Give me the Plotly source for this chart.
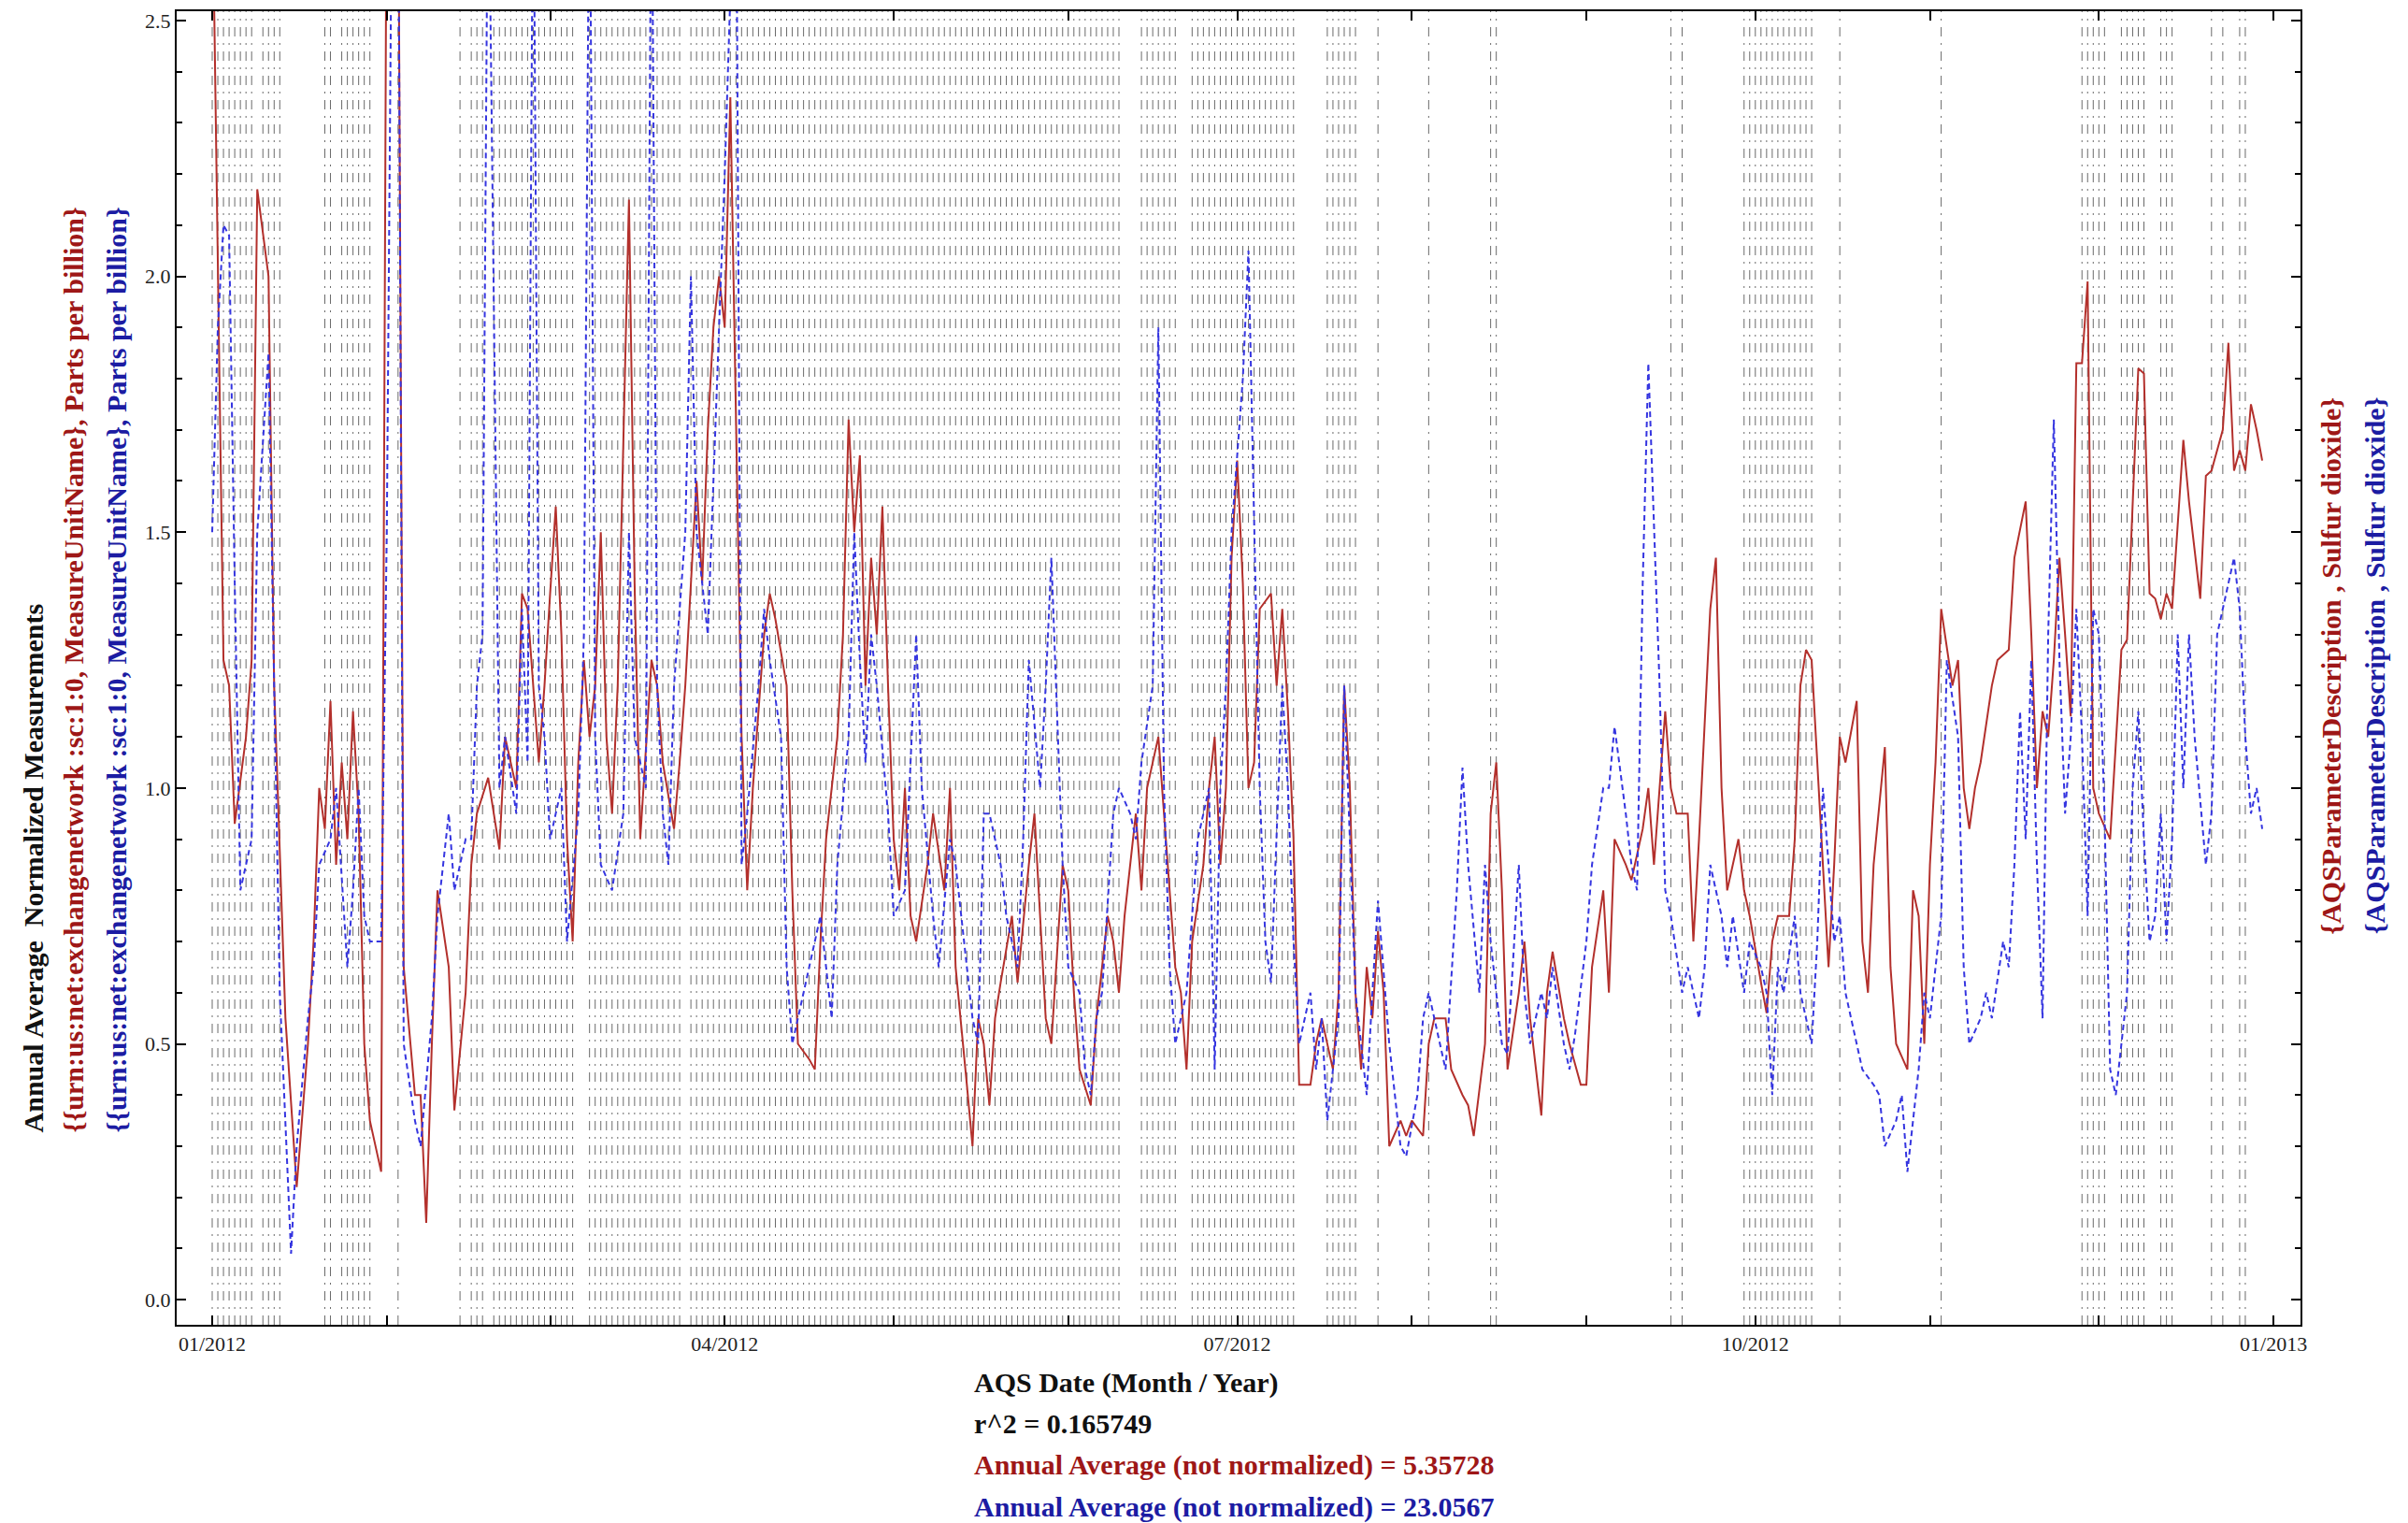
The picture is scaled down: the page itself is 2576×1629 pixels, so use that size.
import pandas as pd
import plotly.graph_objects as go

BASE = pd.Timestamp("2012-01-01")

# (day of year 2012 counted from Jan 1 = 0, normalized value)
red_points = [
    (0, 2.8), (2, 1.25), (3, 1.2), (4, 0.93), (6, 1.1), (7, 1.25), (8, 2.17), (10, 2.0), (11, 1.2), (13, 0.55),
    (15, 0.22), (17, 0.5), (18, 0.7), (19, 1.0), (20, 0.92), (21, 1.17), (22, 0.85), (23, 1.05), (24, 0.9), (25, 1.15),
    (26, 0.95), (27, 0.5), (28, 0.35), (30, 0.25), (31, 2.9), (32, 3.0), (33, 2.9), (34, 0.65), (36, 0.4), (37, 0.4),
    (38, 0.15), (39, 0.5), (40, 0.8), (42, 0.65), (43, 0.37), (45, 0.6), (46, 0.85), (47, 0.95), (49, 1.02), (50, 0.95),
    (51, 0.88), (52, 1.1), (54, 1.0), (55, 1.38), (56, 1.35), (58, 1.05), (59, 1.2), (60, 1.38), (61, 1.55), (62, 1.3),
    (63, 0.9), (64, 0.7), (65, 1.05), (66, 1.25), (67, 1.1), (68, 1.2), (69, 1.5), (70, 1.1), (71, 0.95), (72, 1.2),
    (73, 1.7), (74, 2.15), (75, 1.4), (76, 0.9), (78, 1.25), (79, 1.2), (80, 1.05), (82, 0.92), (83, 1.05), (84, 1.2),
    (86, 1.6), (87, 1.4), (88, 1.7), (89, 1.9), (90, 2.0), (91, 1.9), (92, 2.35), (93, 1.7), (94, 1.1), (95, 0.8),
    (96, 1.0), (98, 1.3), (99, 1.38), (100, 1.33), (102, 1.2), (103, 0.8), (104, 0.5), (106, 0.47), (107, 0.45), (108, 0.7),
    (109, 0.9), (111, 1.1), (112, 1.3), (113, 1.72), (114, 1.5), (115, 1.65), (116, 1.2), (117, 1.45), (118, 1.3), (119, 1.55),
    (120, 1.2), (121, 0.9), (122, 0.8), (123, 1.0), (124, 0.75), (125, 0.7), (127, 0.85), (128, 0.95), (130, 0.8), (131, 1.0),
    (132, 0.65), (134, 0.42), (135, 0.3), (136, 0.55), (137, 0.5), (138, 0.38), (139, 0.55), (140, 0.62), (142, 0.75), (143, 0.62),
    (145, 0.85), (146, 0.95), (147, 0.75), (148, 0.55), (149, 0.5), (151, 0.85), (152, 0.8), (153, 0.6), (154, 0.45), (156, 0.38),
    (157, 0.55), (159, 0.75), (160, 0.7), (161, 0.6), (162, 0.75), (164, 0.95), (165, 0.8), (166, 1.0), (168, 1.1), (169, 0.95),
    (171, 0.65), (172, 0.6), (173, 0.45), (174, 0.7), (176, 0.85), (177, 1.0), (178, 1.1), (179, 0.85), (180, 1.0), (181, 1.45),
    (182, 1.64), (183, 1.4), (184, 1.0), (185, 1.05), (186, 1.35), (188, 1.38), (189, 1.2), (190, 1.35), (191, 1.15), (192, 0.9),
    (193, 0.42), (195, 0.42), (196, 0.5), (197, 0.55), (199, 0.45), (200, 0.6), (201, 1.2), (202, 1.0), (203, 0.6), (204, 0.45),
    (205, 0.65), (206, 0.55), (207, 0.72), (208, 0.6), (209, 0.3), (211, 0.35), (212, 0.32), (213, 0.35), (215, 0.32), (216, 0.5),
    (217, 0.55), (219, 0.55), (220, 0.45), (222, 0.4), (223, 0.38), (224, 0.32), (226, 0.5), (227, 0.95), (228, 1.05), (229, 0.8),
    (230, 0.45), (232, 0.6), (233, 0.7), (234, 0.55), (236, 0.36), (237, 0.6), (238, 0.68), (240, 0.55), (241, 0.5), (243, 0.42),
    (244, 0.42), (245, 0.65), (247, 0.8), (248, 0.6), (249, 0.9), (251, 0.85), (252, 0.82), (254, 0.92), (255, 1.0), (256, 0.85),
    (258, 1.15), (259, 1.0), (260, 0.95), (262, 0.95), (263, 0.7), (264, 0.9), (266, 1.35), (267, 1.45), (268, 1.0), (269, 0.8),
    (271, 0.9), (272, 0.8), (273, 0.75), (275, 0.62), (276, 0.56), (277, 0.7), (278, 0.75), (280, 0.75), (281, 0.9), (282, 1.2),
    (283, 1.27), (284, 1.25), (286, 0.85), (287, 0.65), (288, 0.85), (289, 1.1), (290, 1.05), (292, 1.17), (293, 0.7), (294, 0.6),
    (295, 0.85), (297, 1.08), (298, 0.65), (299, 0.5), (301, 0.45), (302, 0.8), (303, 0.75), (304, 0.5), (305, 0.85), (306, 1.05),
    (307, 1.35), (309, 1.2), (310, 1.25), (311, 1.0), (312, 0.92), (313, 1.0), (314, 1.05), (316, 1.2), (317, 1.25), (319, 1.27),
    (320, 1.45), (322, 1.56), (323, 1.3), (324, 1.0), (325, 1.15), (326, 1.1), (327, 1.25), (328, 1.45), (329, 1.3), (330, 1.14),
    (331, 1.83), (332, 1.83), (333, 1.99), (334, 1.0), (335, 0.95), (337, 0.9), (339, 1.27), (340, 1.29), (342, 1.82), (343, 1.81),
    (344, 1.38), (345, 1.37), (346, 1.33), (347, 1.38), (348, 1.35), (350, 1.68), (351, 1.56), (353, 1.37), (354, 1.61), (355, 1.62),
    (357, 1.70), (358, 1.87), (359, 1.62), (360, 1.66), (361, 1.62), (362, 1.75), (363, 1.70), (364, 1.64),
]

blue_points = [
    (0, 1.5), (1, 1.9), (2, 2.1), (3, 2.08), (4, 1.4), (5, 0.8), (6, 0.85), (7, 0.9), (8, 1.5), (10, 1.85),
    (11, 1.2), (12, 0.6), (14, 0.09), (15, 0.3), (17, 0.55), (18, 0.65), (19, 0.85), (21, 0.9), (22, 1.0), (24, 0.65),
    (25, 0.8), (26, 1.0), (27, 0.75), (28, 0.7), (30, 0.7), (31, 1.5), (32, 2.9), (33, 2.9), (34, 0.5), (36, 0.35),
    (37, 0.3), (39, 0.55), (40, 0.75), (42, 0.95), (43, 0.8), (45, 0.9), (46, 0.9), (47, 1.2), (48, 1.3), (49, 2.9),
    (51, 1.0), (52, 1.1), (54, 0.95), (55, 1.35), (56, 1.05), (57, 2.9), (58, 1.2), (59, 1.1), (60, 0.9), (62, 1.0),
    (63, 0.7), (65, 0.95), (66, 1.3), (67, 2.9), (68, 1.1), (69, 0.85), (71, 0.8), (73, 0.95), (74, 1.5), (75, 1.1),
    (77, 1.0), (78, 2.9), (79, 1.2), (80, 0.95), (81, 0.85), (82, 1.2), (84, 1.5), (85, 2.0), (86, 1.5), (88, 1.3),
    (89, 1.6), (91, 2.2), (93, 2.9), (94, 0.85), (95, 0.95), (97, 1.2), (98, 1.35), (99, 1.25), (101, 1.1), (102, 0.65),
    (103, 0.5), (105, 0.6), (106, 0.65), (108, 0.75), (109, 0.65), (110, 0.55), (111, 0.85), (113, 1.1), (114, 1.5), (115, 1.25),
    (116, 1.05), (117, 1.3), (118, 1.2), (120, 0.95), (121, 0.75), (123, 0.8), (124, 1.05), (125, 1.3), (126, 1.0), (128, 0.75),
    (129, 0.65), (131, 0.9), (132, 0.85), (133, 0.75), (135, 0.55), (136, 0.5), (137, 0.95), (138, 0.95), (140, 0.85), (141, 0.75),
    (143, 0.65), (144, 0.9), (145, 1.25), (147, 1.0), (148, 1.2), (149, 1.45), (151, 0.85), (152, 0.65), (154, 0.6), (155, 0.45),
    (156, 0.4), (157, 0.55), (158, 0.6), (160, 0.95), (161, 1.0), (163, 0.95), (164, 0.9), (165, 1.05), (167, 1.2), (168, 1.9),
    (169, 1.0), (170, 0.65), (171, 0.5), (173, 0.6), (174, 0.75), (175, 0.9), (177, 1.0), (178, 0.45), (179, 1.0), (180, 1.2),
    (181, 1.5), (183, 1.8), (184, 2.05), (185, 1.5), (186, 1.0), (187, 0.7), (188, 0.62), (190, 1.2), (191, 1.0), (192, 0.7),
    (193, 0.5), (195, 0.6), (196, 0.45), (197, 0.55), (198, 0.35), (200, 0.55), (201, 1.2), (202, 0.9), (203, 0.6), (204, 0.5),
    (205, 0.4), (206, 0.6), (207, 0.78), (209, 0.5), (210, 0.4), (211, 0.3), (212, 0.28), (214, 0.4), (215, 0.55), (216, 0.6),
    (218, 0.5), (219, 0.45), (221, 0.8), (222, 1.04), (223, 0.85), (225, 0.6), (226, 0.85), (227, 0.7), (229, 0.5), (230, 0.48),
    (232, 0.85), (233, 0.6), (234, 0.5), (236, 0.6), (237, 0.55), (238, 0.65), (240, 0.5), (241, 0.45), (242, 0.52), (244, 0.7),
    (245, 0.85), (247, 1.0), (248, 1.0), (249, 1.12), (251, 0.95), (252, 0.85), (253, 0.8), (254, 1.4), (255, 1.83), (257, 1.2),
    (258, 0.8), (259, 0.75), (261, 0.6), (262, 0.65), (264, 0.55), (265, 0.65), (266, 0.85), (268, 0.75), (269, 0.65), (270, 0.75),
    (272, 0.6), (273, 0.7), (275, 0.65), (276, 0.6), (277, 0.4), (278, 0.65), (279, 0.6), (281, 0.75), (282, 0.6), (284, 0.5),
    (285, 0.7), (286, 1.0), (288, 0.7), (289, 0.75), (290, 0.6), (292, 0.5), (293, 0.45), (295, 0.42), (296, 0.4), (297, 0.3),
    (299, 0.35), (300, 0.4), (301, 0.25), (303, 0.45), (304, 0.6), (305, 0.55), (307, 0.75), (308, 1.25), (310, 1.1), (311, 0.65),
    (312, 0.5), (314, 0.55), (315, 0.6), (316, 0.55), (318, 0.7), (319, 0.65), (320, 0.85), (321, 1.15), (322, 0.9), (323, 1.25),
    (324, 0.85), (325, 0.55), (326, 1.3), (327, 1.72), (328, 1.25), (329, 0.95), (330, 1.1), (331, 1.35), (332, 1.1), (333, 0.75),
    (334, 1.35), (335, 1.3), (336, 0.95), (337, 0.45), (338, 0.4), (340, 0.6), (341, 1.0), (342, 1.15), (343, 0.9), (344, 0.7),
    (345, 0.75), (346, 0.95), (347, 0.7), (348, 0.9), (349, 1.3), (350, 1.0), (351, 1.3), (352, 1.1), (354, 0.85), (355, 0.95),
    (356, 1.3), (357, 1.35), (358, 1.4), (359, 1.45), (360, 1.35), (361, 1.1), (362, 0.95), (363, 1.0), (364, 0.92),
]

# date grid lines (day-of-year ranges, inclusive)
grid_day_ranges = [
    (0, 7), (9, 12), (20, 21), (23, 28), (33, 33), (44, 44), (46, 48), (50, 64), (67, 83), (85, 161),
    (165, 171), (174, 185), (186, 192), (198, 203), (207, 207), (216, 216), (227, 228), (259, 259), (261, 261),
    (272, 277), (278, 280), (281, 284), (289, 289), (307, 307), (332, 336), (339, 343), (346, 348), (355, 355),
    (357, 357), (360, 361),
]

x_tick_dates = ["2012-01-01", "2012-04-01", "2012-07-01", "2012-10-01", "2013-01-01"]
x_tick_labels = ["01/2012", "04/2012", "07/2012", "10/2012", "01/2013"]
y_tick_vals = [0.0, 0.5, 1.0, 1.5, 2.0, 2.5]
y_tick_labels = ["0.0", "0.5", "1.0", "1.5", "2.0", "2.5"]

r_squared = "0.165749"
red_annual_avg = "5.35728"
blue_annual_avg = "23.0567"

RED_LINE = "#b3302c"
BLUE_LINE = "#3535e0"
RED_TXT = "#9e1717"
BLUE_TXT = "#1c1ca3"
SERIF = "Liberation Serif, Times New Roman, serif"


def to_dates(days):
    return [(BASE + pd.Timedelta(days=int(d))).strftime("%Y-%m-%d") for d in days]


red_x = to_dates([d for d, _ in red_points])
red_y = [v for _, v in red_points]
blue_x = to_dates([d for d, _ in blue_points])
blue_y = [v for _, v in blue_points]

grid_days = []
for a, b in grid_day_ranges:
    grid_days.extend(range(a, b + 1))
grid_dates = to_dates(grid_days)

fig = go.Figure()
fig.add_trace(go.Scatter(x=red_x, y=red_y, mode="lines",
                         line=dict(color=RED_LINE, width=2), hoverinfo="skip"))
fig.add_trace(go.Scatter(x=blue_x, y=blue_y, mode="lines",
                         line=dict(color=BLUE_LINE, width=2, dash="6px,4px"), hoverinfo="skip"))

shapes = []
for gd in grid_dates:
    shapes.append(dict(type="line", xref="x", yref="paper", x0=gd, x1=gd, y0=0, y1=1,
                       layer="below",
                       line=dict(color="#6a6a6a", width=1, dash="10px,7px,2px,7px")))

annotations = []
bold = dict(family=SERIF, size=30)
bottom_lines = [
    ("AQS Date (Month / Year)", "#111111"),
    ("r^2 = " + r_squared, "#111111"),
    ("Annual Average (not normalized) = " + red_annual_avg, RED_TXT),
    ("Annual Average (not normalized) = " + blue_annual_avg, BLUE_TXT),
]
bottom_y = [-0.0441, -0.0753, -0.1066, -0.1386]
for (txt, col), yy in zip(bottom_lines, bottom_y):
    annotations.append(dict(text="<b>" + txt + "</b>", xref="paper", yref="paper",
                            x=0.3746, y=yy, xanchor="left", yanchor="middle",
                            showarrow=False, font=dict(bold, color=col)))

left_lines = [
    ("Annual Average  Normalized Measurements", "#111111", -0.0675),
    ("{{urn:us:net:exchangenetwork :sc:1:0, MeasureUnitName}, Parts per billion}", RED_TXT, -0.0488),
    ("{{urn:us:net:exchangenetwork :sc:1:0, MeasureUnitName}, Parts per billion}", BLUE_TXT, -0.0285),
]
for txt, col, xx in left_lines:
    annotations.append(dict(text="<b>" + txt + "</b>", xref="paper", yref="paper",
                            x=xx, y=0.1450, xanchor="center", yanchor="bottom",
                            textangle=-90, showarrow=False, font=dict(bold, color=col)))

right_lines = [
    ("{AQSParameterDescription , Sulfur dioxide}", RED_TXT, 1.0145),
    ("{AQSParameterDescription , Sulfur dioxide}", BLUE_TXT, 1.0350),
]
for txt, col, xx in right_lines:
    annotations.append(dict(text="<b>" + txt + "</b>", xref="paper", yref="paper",
                            x=xx, y=0.502, xanchor="center", yanchor="middle",
                            textangle=-90, showarrow=False, font=dict(bold, color=col)))

tickfont = dict(family=SERIF, size=22, color="#222222")

fig.update_layout(
    width=2576, height=1629,
    margin=dict(l=189, r=115, t=10, b=212, pad=0),
    paper_bgcolor="white", plot_bgcolor="white",
    showlegend=False,
    shapes=shapes,
    annotations=annotations,
    xaxis=dict(
        type="date",
        range=["2011-12-25 16:34", "2013-01-05 19:12"],
        tickvals=x_tick_dates, ticktext=x_tick_labels,
        ticks="inside", ticklen=10, tickwidth=2, tickcolor="black",
        showline=True, linewidth=2, linecolor="black", mirror="ticks",
        showgrid=False, zeroline=False, tickfont=tickfont,
        minor=dict(dtick="M1", tick0="2012-01-01", ticks="inside", ticklen=10,
                   tickwidth=1.5, tickcolor="black", showgrid=False),
    ),
    yaxis=dict(
        range=[-0.049, 2.518],
        tickvals=y_tick_vals, ticktext=y_tick_labels,
        ticks="inside", ticklen=10, tickwidth=2, tickcolor="black",
        showline=True, linewidth=2, linecolor="black", mirror="ticks",
        showgrid=False, zeroline=False, tickfont=tickfont,
        minor=dict(dtick=0.1, tick0=0, ticks="inside", ticklen=6,
                   tickwidth=1.5, tickcolor="black", showgrid=False),
    ),
)

fig.write_html("out.html", config={"displayModeBar": False},
               post_script="document.body.style.margin='0';")
